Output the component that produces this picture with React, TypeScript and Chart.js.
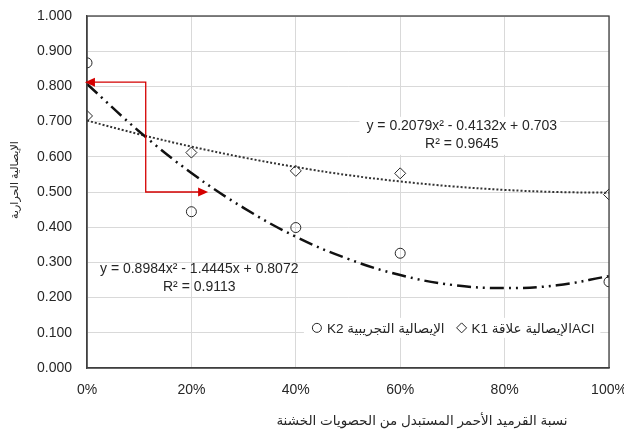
import React, { useEffect, useRef } from "react";
import { Chart, registerables } from "chart.js";

Chart.register(...registerables);

// ---- data ----
const xValues = [0, 0.2, 0.4, 0.6, 1.0];
const k2Experimental = [0.867, 0.444, 0.399, 0.326, 0.245];
const k1Aci = [0.716, 0.612, 0.56, 0.553, 0.493];

const trendX = [0, 0.1, 0.2, 0.3, 0.4, 0.5, 0.6, 0.7, 0.8, 0.9, 1.0];
const k2Trend = [0.807, 0.672, 0.554, 0.455, 0.373, 0.31, 0.264, 0.236, 0.227, 0.235, 0.261];
const k1Trend = [0.703, 0.664, 0.629, 0.598, 0.571, 0.548, 0.53, 0.516, 0.506, 0.5, 0.498];

const legendLabels = ["K2 الإيصالية التجريبية", "K1 الإيصالية علاقةACI"];
const eqK1 = ["y = 0.2079x² - 0.4132x + 0.703", "R² = 0.9645"];
const eqK2 = ["y = 0.8984x² - 1.4445x + 0.8072", "R² = 0.9113"];
const eqK1Pos = [0.718, 0.688]; // data x, y of first line center
const eqK2Pos = [0.215, 0.281];
const xTitle = "نسبة القرميد الأحمر المستبدل من الحصويات الخشنة";
const yTitle = "الإيصالية الحرارية";

// red arrow path (data coords)
const arrowX = [0.232, 0.1125, 0.1125, -0.004];
const arrowY = [0.5, 0.5, 0.812, 0.812];

const legendAnchor = [0.972, 0.114]; // right end x, center y

const FONT = "'Liberation Sans', Arial, 'DejaVu Sans', sans-serif";
const TEXT = "#262626";
const EQ_SIZE = 14;
const LEG_SIZE = 13.5;

function arrowHead(ctx: CanvasRenderingContext2D, fx: number, fy: number, tx: number, ty: number) {
  const len = 10;
  const hw = 4.5;
  const a = Math.atan2(ty - fy, tx - fx);
  ctx.beginPath();
  ctx.moveTo(tx, ty);
  ctx.lineTo(tx - len * Math.cos(a) + hw * Math.sin(a), ty - len * Math.sin(a) - hw * Math.cos(a));
  ctx.lineTo(tx - len * Math.cos(a) - hw * Math.sin(a), ty - len * Math.sin(a) + hw * Math.cos(a));
  ctx.closePath();
  ctx.fill();
}

function labelBoxes(chart: any) {
  const ctx: CanvasRenderingContext2D = chart.ctx;
  const xs = chart.scales.x;
  const ys = chart.scales.y;
  const boxes: any[] = [];
  ctx.save();
  ctx.font = `${EQ_SIZE}px ${FONT}`;
  [[eqK1, eqK1Pos, true], [eqK2, eqK2Pos, false]].forEach(([lines, pos, filled]: any) => {
    const cx = xs.getPixelForValue(pos[0]);
    const cy = ys.getPixelForValue(pos[1]);
    const w = Math.max(...lines.map((l: string) => ctx.measureText(l).width));
    boxes.push({ lines, cx, cy, w, filled });
  });
  ctx.restore();
  return boxes;
}

function legendLayout(chart: any) {
  const ctx: CanvasRenderingContext2D = chart.ctx;
  const xs = chart.scales.x;
  const ys = chart.scales.y;
  ctx.save();
  ctx.font = `${LEG_SIZE}px ${FONT}`;
  const widths = legendLabels.map((t) => ctx.measureText(t).width);
  ctx.restore();
  const markerW = 10;
  const gapMarker = 5;
  const gapItem = 12;
  const total = widths.reduce((a, b) => a + b, 0) + 2 * (markerW + gapMarker) + gapItem;
  const right = xs.getPixelForValue(legendAnchor[0]);
  const cy = ys.getPixelForValue(legendAnchor[1]);
  let x = right - total;
  const left = x;
  const shapes = ["circle", "diamond"];
  const items = legendLabels.map((t, i) => {
    const mx = x + markerW / 2;
    const tx = x + markerW + gapMarker;
    x = tx + widths[i] + gapItem;
    return { text: t, mx, tx, shape: shapes[i] };
  });
  return { items, left, right, cy };
}

const overlayPlugin = {
  id: "overlay",
  beforeDatasetsDraw(chart: any) {
    const ctx: CanvasRenderingContext2D = chart.ctx;
    const boxes = labelBoxes(chart);
    ctx.save();
    ctx.fillStyle = "#ffffff";
    boxes.forEach((b) => {
      if (b.filled) ctx.fillRect(b.cx - b.w / 2 - 7, b.cy - 9, b.w + 10, 38);
    });
    const lg = legendLayout(chart);
    ctx.fillRect(lg.left - 8, lg.cy - 10, lg.right - lg.left + 14, 20);
    ctx.restore();
  },
  afterDatasetsDraw(chart: any) {
    const ctx: CanvasRenderingContext2D = chart.ctx;
    const xs = chart.scales.x;
    const ys = chart.scales.y;
    const area = chart.chartArea;
    ctx.save();
    // plot border
    ctx.strokeStyle = "#404040";
    ctx.lineWidth = 1.3;
    ctx.strokeRect(area.left, area.top, area.right - area.left, area.bottom - area.top);

    // red arrows
    const px = arrowX.map((v) => xs.getPixelForValue(v));
    const py = arrowY.map((v) => ys.getPixelForValue(v));
    ctx.strokeStyle = "#d40000";
    ctx.fillStyle = "#d40000";
    ctx.lineWidth = 1.3;
    ctx.beginPath();
    ctx.moveTo(px[0] - 9, py[0]);
    for (let i = 1; i < px.length - 1; i++) ctx.lineTo(px[i], py[i]);
    ctx.lineTo(px[px.length - 1] + 9, py[py.length - 1]);
    ctx.stroke();
    arrowHead(ctx, px[1], py[1], px[0], py[0]);
    arrowHead(ctx, px[2], py[2], px[3], py[3]);

    // equations
    ctx.fillStyle = TEXT;
    ctx.font = `${EQ_SIZE}px ${FONT}`;
    ctx.textAlign = "center";
    ctx.textBaseline = "middle";
    labelBoxes(chart).forEach((b) => {
      b.lines.forEach((l: string, i: number) => ctx.fillText(l, b.cx, b.cy + i * 18));
    });

    // legend
    const lg = legendLayout(chart);
    ctx.strokeStyle = TEXT;
    ctx.lineWidth = 1;
    lg.items.forEach((it: any) => {
      ctx.beginPath();
      if (it.shape === "circle") {
        ctx.arc(it.mx, lg.cy, 4.5, 0, Math.PI * 2);
      } else {
        ctx.moveTo(it.mx, lg.cy - 5);
        ctx.lineTo(it.mx + 5, lg.cy);
        ctx.lineTo(it.mx, lg.cy + 5);
        ctx.lineTo(it.mx - 5, lg.cy);
        ctx.closePath();
      }
      ctx.stroke();
      ctx.font = `${LEG_SIZE}px ${FONT}`;
      ctx.textAlign = "left";
      ctx.fillText(it.text, it.tx, lg.cy + 1);
    });

    // axis titles
    ctx.font = `13.5px ${FONT}`;
    ctx.textAlign = "center";
    ctx.fillText(xTitle, 422, 421);
    ctx.font = `11px ${FONT}`;
    ctx.translate(15, 180);
    ctx.rotate(-Math.PI / 2);
    ctx.fillText(yTitle, 0, 0);
    ctx.restore();
  },
};

export default function App() {
  const ref = useRef<HTMLCanvasElement | null>(null);
  useEffect(() => {
    document.body.style.margin = "0";
    const canvas = ref.current;
    if (!canvas) return;
    const chart = new Chart(canvas, {
      type: "scatter",
      data: {
        datasets: [
          {
            label: legendLabels[0],
            data: xValues.map((x, i) => ({ x, y: k2Experimental[i] })),
            pointStyle: "circle",
            pointRadius: 5,
            pointBorderWidth: 1,
            pointBorderColor: TEXT,
            pointBackgroundColor: "rgba(0,0,0,0)",
            showLine: false,
          },
          {
            label: legendLabels[1],
            data: xValues.map((x, i) => ({ x, y: k1Aci[i] })),
            pointStyle: "rectRot",
            pointRadius: 5.5,
            pointBorderWidth: 1,
            pointBorderColor: TEXT,
            pointBackgroundColor: "rgba(0,0,0,0)",
            showLine: false,
          },
          {
            label: "trend K2",
            data: trendX.map((x, i) => ({ x, y: k2Trend[i] })),
            showLine: true,
            pointRadius: 0,
            borderColor: "#111111",
            borderWidth: 2.5,
            borderDash: [14, 5, 2, 5, 2, 5],
            tension: 0.4,
          },
          {
            label: "trend K1",
            data: trendX.map((x, i) => ({ x, y: k1Trend[i] })),
            showLine: true,
            pointRadius: 0,
            borderColor: "#333333",
            borderWidth: 2,
            borderDash: [2, 2],
            tension: 0.4,
          },
        ],
      },
      options: {
        animation: false,
        responsive: true,
        maintainAspectRatio: false,
        layout: { padding: { top: 16, right: 0, left: 0, bottom: 0 } },
        plugins: {
          legend: { display: false },
          tooltip: { enabled: false },
        },
        scales: {
          x: {
            type: "linear",
            min: 0,
            max: 1,
            ticks: {
              stepSize: 0.2,
              padding: 0,
              color: TEXT,
              font: { family: FONT, size: 14 },
              callback: (v: any) => Math.round(Number(v) * 100) + "%",
            },
            grid: {
              color: "#d9d9d9",
              lineWidth: 1,
              drawTicks: true,
              tickLength: 14,
              tickColor: "rgba(0,0,0,0)",
            },
            border: { color: "#404040", width: 1.3 },
            afterFit: (s: any) => {
              s.height = 67;
              s.paddingRight = 15;
            },
          },
          y: {
            type: "linear",
            min: 0,
            max: 1,
            ticks: {
              stepSize: 0.1,
              padding: 0,
              color: TEXT,
              font: { family: FONT, size: 14 },
              callback: (v: any) => Number(v).toFixed(3),
            },
            grid: {
              color: "#d9d9d9",
              lineWidth: 1,
              drawTicks: true,
              tickLength: 15,
              tickColor: "rgba(0,0,0,0)",
            },
            border: { color: "#404040", width: 1.3 },
            afterFit: (s: any) => {
              s.width = 87;
            },
          },
        },
      },
      plugins: [overlayPlugin],
    });
    return () => chart.destroy();
  }, []);
  return (
    <div style={{ position: "relative", width: 624, height: 435 }}>
      <canvas ref={ref} />
    </div>
  );
}
